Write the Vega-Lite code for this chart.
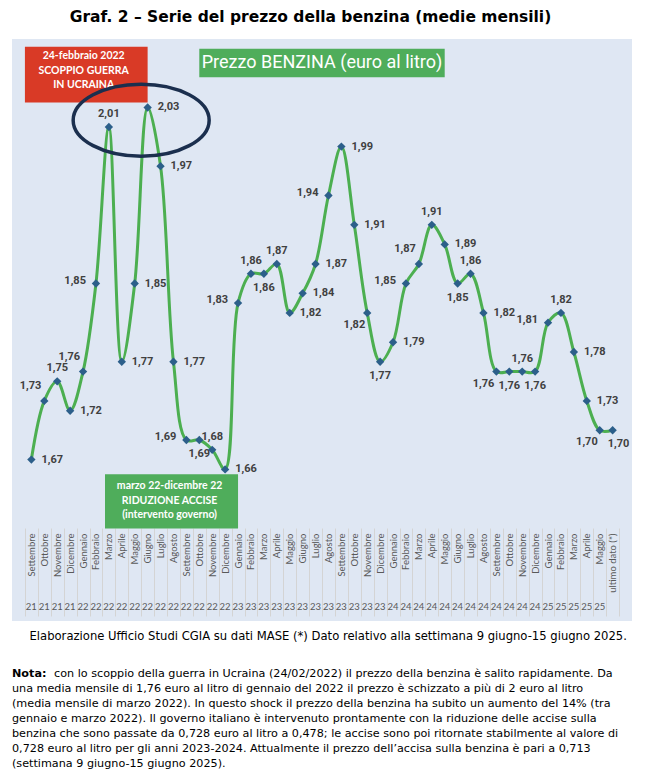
{
  "$schema": "https://vega.github.io/schema/vega-lite/v6.json",
  "padding": {"left": 7, "right": 17, "top": 9, "bottom": 0},
  "background": "white",
  "config": {
    "locale": {"number": {"decimal": ",", "thousands": ".", "grouping": [3], "currency": ["€", ""]}},
    "view": {"stroke": null}
  },
  "title": {"text": "Graf. 2 – Serie del prezzo della benzina (medie mensili)", "font": "DejaVu Sans", "fontSize": 15.5, "fontWeight": "bold", "color": "#000000", "anchor": "middle", "offset": 14, "dx": -9},
  "datasets": {
    "benzina": [
      {"k": "Settembre|21", "v": 1.67}, {"k": "Ottobre|21", "v": 1.73}, {"k": "Novembre|21", "v": 1.75}, {"k": "Dicembre|21", "v": 1.72},
      {"k": "Gennaio|22", "v": 1.76}, {"k": "Febbraio|22", "v": 1.85}, {"k": "Marzo|22", "v": 2.01}, {"k": "Aprile|22", "v": 1.77},
      {"k": "Maggio|22", "v": 1.85}, {"k": "Giugno|22", "v": 2.03}, {"k": "Luglio|22", "v": 1.97}, {"k": "Agosto|22", "v": 1.77},
      {"k": "Settembre|22", "v": 1.69}, {"k": "Ottobre|22", "v": 1.69}, {"k": "Novembre|22", "v": 1.68}, {"k": "Dicembre|22", "v": 1.66},
      {"k": "Gennaio|23", "v": 1.83}, {"k": "Febbraio|23", "v": 1.86}, {"k": "Marzo|23", "v": 1.86}, {"k": "Aprile|23", "v": 1.87},
      {"k": "Maggio|23", "v": 1.82}, {"k": "Giugno|23", "v": 1.84}, {"k": "Luglio|23", "v": 1.87}, {"k": "Agosto|23", "v": 1.94},
      {"k": "Settembre|23", "v": 1.99}, {"k": "Ottobre|23", "v": 1.91}, {"k": "Novembre|23", "v": 1.82}, {"k": "Dicembre|23", "v": 1.77},
      {"k": "Gennaio|24", "v": 1.79}, {"k": "Febbraio|24", "v": 1.85}, {"k": "Marzo|24", "v": 1.87}, {"k": "Aprile|24", "v": 1.91},
      {"k": "Maggio|24", "v": 1.89}, {"k": "Giugno|24", "v": 1.85}, {"k": "Luglio|24", "v": 1.86}, {"k": "Agosto|24", "v": 1.82},
      {"k": "Settembre|24", "v": 1.76}, {"k": "Ottobre|24", "v": 1.76}, {"k": "Novembre|24", "v": 1.76}, {"k": "Dicembre|24", "v": 1.76},
      {"k": "Gennaio|25", "v": 1.81}, {"k": "Febbraio|25", "v": 1.82}, {"k": "Marzo|25", "v": 1.78}, {"k": "Aprile|25", "v": 1.73},
      {"k": "Maggio|25", "v": 1.70}, {"k": "ultimo dato (*)|", "v": 1.70}
    ],
    "nota": [
      {"r": 1, "t": "con lo scoppio della guerra in Ucraina (24/02/2022) il prezzo della benzina è salito rapidamente. Da"},
      {"r": 2, "t": "una media mensile di 1,76 euro al litro di gennaio del 2022 il prezzo è schizzato a più di 2 euro al litro"},
      {"r": 3, "t": "(media mensile di marzo 2022). In questo shock il prezzo della benzina ha subito un aumento del 14% (tra"},
      {"r": 4, "t": "gennaio e marzo 2022). Il governo italiano è intervenuto prontamente con la riduzione delle accise sulla"},
      {"r": 5, "t": "benzina che sono passate da 0,728 euro al litro a 0,478; le accise sono poi ritornate stabilmente al valore di"},
      {"r": 6, "t": "0,728 euro al litro per gli anni 2023-2024. Attualmente il prezzo dell’accisa sulla benzina è pari a 0,713"},
      {"r": 7, "t": "(settimana 9 giugno-15 giugno 2025)."}
    ]
  },
  "spacing": 8,
  "vconcat": [
    {
      "width": 620,
      "height": 582,
      "view": {"fill": "#dfe7f3", "stroke": null},
      "data": {"name": "benzina"},
      "resolve": {"axis": {"x": "independent"}},
      "layer": [
        {
          "data": {"values": [{}]},
          "mark": {"type": "rect", "color": "#d93a26"},
          "encoding": {
            "x": {"datum": "Settembre|21", "type": "nominal", "bandPosition": 0, "axis": null},
            "x2": {"datum": "Giugno|22"},
            "y": {"datum": 2.092, "type": "quantitative", "axis": null},
            "y2": {"datum": 2.035}
          }
        },
        {
          "data": {"values": [{}]},
          "mark": {"type": "text", "text": ["24-febbraio 2022", "SCOPPIO GUERRA", "IN UCRAINA"], "font": "Lato", "fontSize": 10.5, "fontWeight": "bold", "color": "white", "lineHeight": 14.5, "align": "center", "baseline": "top"},
          "encoding": {
            "x": {"datum": "Gennaio|22", "type": "nominal", "bandPosition": 0.55, "axis": null},
            "y": {"datum": 2.0875, "type": "quantitative", "axis": null}
          }
        },
        {
          "data": {"values": [{}]},
          "mark": {"type": "rect", "color": "#4fad5b"},
          "encoding": {
            "x": {"datum": "Ottobre|22", "type": "nominal", "bandPosition": 0.5, "axis": null},
            "x2": {"datum": "Maggio|24"},
            "y": {"datum": 2.09, "type": "quantitative", "axis": null},
            "y2": {"datum": 2.061}
          }
        },
        {
          "data": {"values": [{}]},
          "mark": {"type": "text", "text": "Prezzo BENZINA (euro al litro)", "font": "Roboto", "fontSize": 18, "fontWeight": "normal", "color": "white", "align": "center", "baseline": "middle"},
          "encoding": {
            "x": {"datum": "Agosto|23", "type": "nominal", "bandPosition": 0, "axis": null},
            "y": {"datum": 2.0756, "type": "quantitative", "axis": null}
          }
        },
        {
          "data": {"values": [{}]},
          "mark": {"type": "rect", "color": "#4fad5b"},
          "encoding": {
            "x": {"datum": "Marzo|22", "type": "nominal", "bandPosition": 0.2, "axis": null},
            "x2": {"datum": "Gennaio|23"},
            "y": {"datum": 1.655, "type": "quantitative", "axis": null},
            "y2": {"datum": 1.5995}
          }
        },
        {
          "data": {"values": [{}]},
          "mark": {"type": "text", "text": ["marzo 22-dicembre 22", "RIDUZIONE ACCISE", "(intervento governo)"], "font": "Lato", "fontSize": 10.5, "fontWeight": "bold", "color": "white", "lineHeight": 14.5, "align": "center", "baseline": "top"},
          "encoding": {
            "x": {"datum": "Agosto|22", "type": "nominal", "bandPosition": 0.2, "axis": null},
            "y": {"datum": 1.648, "type": "quantitative", "axis": null}
          }
        },
        {
          "mark": {"type": "line", "interpolate": "catmull-rom", "color": "#4caf50", "strokeWidth": 3},
          "encoding": {
            "x": {
              "field": "k", "type": "nominal", "sort": null,
              "scale": {
                "domain": ["Settembre|21", "Ottobre|21", "Novembre|21", "Dicembre|21",
                  "Gennaio|22", "Febbraio|22", "Marzo|22", "Aprile|22", "Maggio|22", "Giugno|22", "Luglio|22", "Agosto|22", "Settembre|22", "Ottobre|22", "Novembre|22", "Dicembre|22",
                  "Gennaio|23", "Febbraio|23", "Marzo|23", "Aprile|23", "Maggio|23", "Giugno|23", "Luglio|23", "Agosto|23", "Settembre|23", "Ottobre|23", "Novembre|23", "Dicembre|23",
                  "Gennaio|24", "Febbraio|24", "Marzo|24", "Aprile|24", "Maggio|24", "Giugno|24", "Luglio|24", "Agosto|24", "Settembre|24", "Ottobre|24", "Novembre|24", "Dicembre|24",
                  "Gennaio|25", "Febbraio|25", "Marzo|25", "Aprile|25", "Maggio|25", "ultimo dato (*)|"],
                "paddingInner": 0, "paddingOuter": 1.05
              },
              "axis": {
                "orient": "bottom", "offset": -93, "title": null, "domain": false, "grid": false,
                "ticks": true, "tickBand": "extent", "tickSize": 88, "tickColor": "#d4d4d4", "tickWidth": 1,
                "labelExpr": "isString(datum.value) ? split(datum.value, '|')[0] : ''", "labelAngle": -90, "labelAlign": "right", "labelBaseline": "middle",
                "labelPadding": -83, "labelFont": "Lato", "labelFontSize": 9.5, "labelColor": "#595959", "labelOverlap": false
              }
            },
            "y": {
              "field": "v", "type": "quantitative",
              "scale": {"domain": [1.505, 2.1], "nice": false, "zero": false},
              "axis": {"orient": "left", "title": null, "labels": false, "ticks": false, "domain": false, "grid": true, "minExtent": 0, "maxExtent": 0, "labelPadding": 0,
                "values": [1.6, 1.65, 1.7, 1.75, 1.8, 1.85, 1.9, 1.95, 2.0, 2.05, 2.1], "gridColor": "#d6d6d6", "gridWidth": 1}
            }
          }
        },
        {
          "mark": {"type": "point", "shape": "diamond", "filled": true, "color": "#2c5f8a", "size": 70, "opacity": 1},
          "encoding": {
            "x": {
              "field": "k", "type": "nominal", "sort": null,
              "axis": {
                "orient": "bottom", "offset": -22, "domain": false, "ticks": false, "grid": false, "title": null,
                "labelExpr": "isString(datum.value) ? split(datum.value, '|')[1] : ''", "labelAngle": 0, "labelAlign": "center", "labelBaseline": "top",
                "labelPadding": 2, "labelFont": "Lato", "labelFontSize": 9.5, "labelColor": "#595959", "labelOverlap": false
              }
            },
            "y": {"field": "v", "type": "quantitative", "axis": null}
          }
        },
        {
          "data": {"values": [{}]},
          "mark": {"type": "point", "shape": "M-1,0A1,0.53,0,1,1,1,0A1,0.53,0,1,1,-1,0Z", "filled": false, "stroke": "#1b2f4e", "strokeWidth": 3.5, "size": 18496, "opacity": 1},
          "encoding": {
            "x": {"datum": "Giugno|22", "type": "nominal", "bandPosition": 0, "axis": null},
            "y": {"datum": 2.017, "type": "quantitative", "axis": null}
          }
        },
        {
          "transform": [{"filter": {"field": "k", "oneOf": ["Settembre|21", "Dicembre|21", "Aprile|22", "Maggio|22", "Giugno|22", "Luglio|22", "Agosto|22", "Dicembre|22", "Maggio|23", "Giugno|23", "Luglio|23", "Settembre|23", "Ottobre|23", "Gennaio|24", "Maggio|24", "Agosto|24", "Marzo|25", "Aprile|25"]}}],
          "mark": {"type": "text", "align": "left", "baseline": "middle", "dx": 10, "font": "Roboto", "fontSize": 11, "fontWeight": "bold", "color": "#404040"},
          "encoding": {
            "x": {"field": "k", "type": "nominal", "sort": null, "axis": null},
            "y": {"field": "v", "type": "quantitative", "axis": null},
            "text": {"field": "v", "type": "quantitative", "format": ".2f"}
          }
        },
        {
          "transform": [{"filter": {"field": "k", "oneOf": ["Febbraio|22", "Settembre|22", "Gennaio|23", "Agosto|23", "Febbraio|24", "Gennaio|25"]}}],
          "mark": {"type": "text", "align": "right", "baseline": "middle", "dx": -10, "dy": -3, "font": "Roboto", "fontSize": 11, "fontWeight": "bold", "color": "#404040"},
          "encoding": {
            "x": {"field": "k", "type": "nominal", "sort": null, "axis": null},
            "y": {"field": "v", "type": "quantitative", "axis": null},
            "text": {"field": "v", "type": "quantitative", "format": ".2f"}
          }
        },
        {
          "transform": [{"filter": {"field": "k", "oneOf": ["Novembre|21", "Marzo|22", "Novembre|22", "Febbraio|23", "Aprile|23", "Aprile|24", "Luglio|24", "Novembre|24", "Febbraio|25"]}}],
          "mark": {"type": "text", "align": "center", "baseline": "bottom", "dy": -8, "font": "Roboto", "fontSize": 11, "fontWeight": "bold", "color": "#404040"},
          "encoding": {
            "x": {"field": "k", "type": "nominal", "sort": null, "axis": null},
            "y": {"field": "v", "type": "quantitative", "axis": null},
            "text": {"field": "v", "type": "quantitative", "format": ".2f"}
          }
        },
        {
          "transform": [{"filter": {"field": "k", "oneOf": ["Ottobre|22", "Marzo|23", "Dicembre|23", "Giugno|24", "Ottobre|24", "Dicembre|24"]}}],
          "mark": {"type": "text", "align": "center", "baseline": "top", "dy": 8, "font": "Roboto", "fontSize": 11, "fontWeight": "bold", "color": "#404040"},
          "encoding": {
            "x": {"field": "k", "type": "nominal", "sort": null, "axis": null},
            "y": {"field": "v", "type": "quantitative", "axis": null},
            "text": {"field": "v", "type": "quantitative", "format": ".2f"}
          }
        },
        {
          "transform": [{"filter": {"field": "k", "oneOf": ["Ottobre|21", "Gennaio|22", "Marzo|24"]}}],
          "mark": {"type": "text", "align": "right", "baseline": "bottom", "dx": -3, "dy": -10, "font": "Roboto", "fontSize": 11, "fontWeight": "bold", "color": "#404040"},
          "encoding": {
            "x": {"field": "k", "type": "nominal", "sort": null, "axis": null},
            "y": {"field": "v", "type": "quantitative", "axis": null},
            "text": {"field": "v", "type": "quantitative", "format": ".2f"}
          }
        },
        {
          "transform": [{"filter": {"field": "k", "oneOf": ["Novembre|23", "Settembre|24", "Maggio|25"]}}],
          "mark": {"type": "text", "align": "right", "baseline": "top", "dx": -2, "dy": 6, "font": "Roboto", "fontSize": 11, "fontWeight": "bold", "color": "#404040"},
          "encoding": {
            "x": {"field": "k", "type": "nominal", "sort": null, "axis": null},
            "y": {"field": "v", "type": "quantitative", "axis": null},
            "text": {"field": "v", "type": "quantitative", "format": ".2f"}
          }
        },
        {
          "transform": [{"filter": {"field": "k", "oneOf": ["ultimo dato (*)|"]}}],
          "mark": {"type": "text", "align": "left", "baseline": "top", "dx": -5, "dy": 8, "font": "Roboto", "fontSize": 11, "fontWeight": "bold", "color": "#404040"},
          "encoding": {
            "x": {"field": "k", "type": "nominal", "sort": null, "axis": null},
            "y": {"field": "v", "type": "quantitative", "axis": null},
            "text": {"field": "v", "type": "quantitative", "format": ".2f"}
          }
        }
      ]
    },
    {
      "width": 620,
      "height": 142.5,
      "data": {"name": "nota"},
      "layer": [
        {
          "data": {"values": [{}]},
          "mark": {"type": "text", "text": "Elaborazione Ufficio Studi CGIA su dati MASE (*) Dato relativo alla settimana 9 giugno-15 giugno 2025.", "align": "center", "baseline": "middle", "font": "DejaVu Sans", "fontSize": 11.6, "color": "#000000"},
          "encoding": {
            "x": {"datum": 0.51, "type": "quantitative", "scale": {"domain": [0, 1]}, "axis": null},
            "y": {"datum": -1.47, "type": "quantitative", "scale": {"domain": [-2, 7.5], "reverse": true, "nice": false, "zero": false}, "axis": null}
          }
        },
        {
          "data": {"values": [{}]},
          "mark": {"type": "text", "text": "Nota:", "align": "left", "baseline": "middle", "font": "DejaVu Sans", "fontSize": 11.2, "fontWeight": "bold", "color": "#000000"},
          "encoding": {
            "x": {"datum": 0, "type": "quantitative", "axis": null},
            "y": {"datum": 1, "type": "quantitative", "axis": null}
          }
        },
        {
          "transform": [{"filter": "datum.r == 1"}],
          "mark": {"type": "text", "align": "left", "baseline": "middle", "dx": 42, "font": "DejaVu Sans", "fontSize": 11.2, "color": "#000000"},
          "encoding": {
            "x": {"datum": 0, "type": "quantitative", "axis": null},
            "y": {"field": "r", "type": "quantitative", "axis": null},
            "text": {"field": "t"}
          }
        },
        {
          "transform": [{"filter": "datum.r > 1"}],
          "mark": {"type": "text", "align": "left", "baseline": "middle", "font": "DejaVu Sans", "fontSize": 11.2, "color": "#000000"},
          "encoding": {
            "x": {"datum": 0, "type": "quantitative", "axis": null},
            "y": {"field": "r", "type": "quantitative", "axis": null},
            "text": {"field": "t"}
          }
        }
      ]
    }
  ]
}
